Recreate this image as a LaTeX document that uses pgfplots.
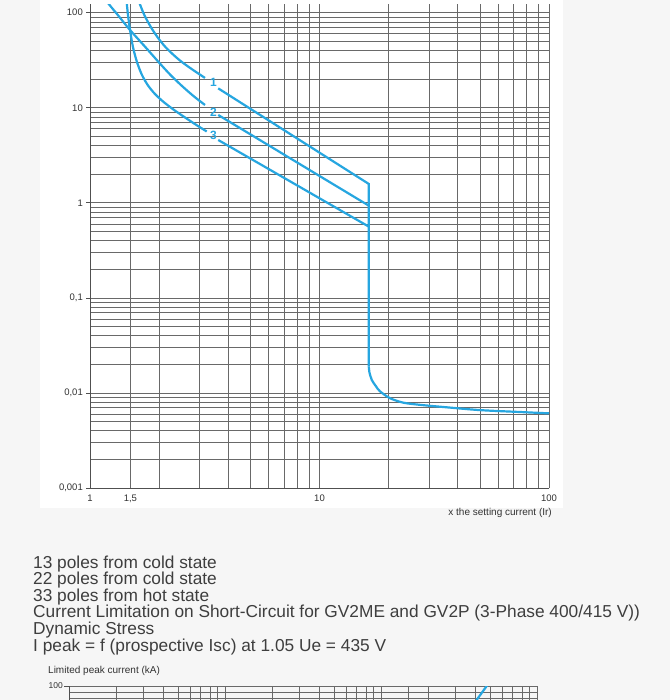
\documentclass[border=0pt]{standalone}
\usepackage{pgfplots}
\pgfplotsset{compat=1.18}
\usepackage{fontspec}
\setmainfont{Liberation Sans}
\definecolor{curve}{RGB}{38,166,224}
\definecolor{gridc}{RGB}{105,105,105}
\definecolor{axisc}{RGB}{80,80,80}
\definecolor{bgout}{RGB}{246,246,246}
\definecolor{txt}{RGB}{62,62,62}
\definecolor{tickc}{RGB}{50,50,50}
\begin{document}
\begin{tikzpicture}
\path[use as bounding box] (0pt,0pt) rectangle (670pt,-700pt);
\clip (0pt,0pt) rectangle (670pt,-700pt);
\fill[bgout] (0pt,0pt) rectangle (670pt,-700pt);
\fill[white] (40pt,0pt) rectangle (563pt,-508pt);
\begin{axis}[
  at={(90pt,-488pt)}, anchor=south west,
  scale only axis, width=459pt, height=483.5pt,
  xmode=log, ymode=log,
  xmin=1, xmax=100, ymin=0.001, ymax=122,
  axis lines*=left,
  axis line style={draw=axisc, line width=0.9pt},
  xtick={1,1.5,10,100}, xticklabels={1,{1,5},10,100},
  minor xtick={2,3,4,5,6,7,8,9,20,30,40,50,60,70,80,90},
  ytick={0.001,0.01,0.1,1,10,100},
  yticklabels={{0,001},{0,01},{0,1},1,10,100},
  minor ytick={0.002,0.003,0.004,0.005,0.006,0.007,0.008,0.009,
    0.02,0.03,0.04,0.05,0.06,0.07,0.08,0.09,
    0.2,0.3,0.4,0.5,0.6,0.7,0.8,0.9,
    2,3,4,5,6,7,8,9,20,30,40,50,60,70,80,90},
  grid=both,
  major grid style={draw=gridc, line width=0.75pt},
  minor grid style={draw=gridc, line width=0.75pt},
  tick align=outside, major tick length=4pt, minor tick length=0pt,
  xtick style={draw=none},
  ytick style={draw=axisc, line width=0.7pt},
  tick label style={font=\fontsize{9.5}{10}\selectfont, text=tickc},
  yticklabel style={inner sep=0pt, xshift=-3pt},
  xticklabel style={inner sep=0pt, yshift=-3pt},
]
% curve 1
\addplot[curve, line width=2.2pt, smooth] coordinates {
 (1.60,150) (1.624,136) (1.707,100) (1.789,79.8) (1.882,65.0) (1.985,53.8) (2.122,44.1) (2.277,37.2) (2.467,31.4) (2.673,27.2) (2.897,23.8) (3.171,20.6)};
\addplot[curve, line width=2.2pt] coordinates {
 (3.62,16.0) (16.4,1.58) (16.4,0.019)};
\addplot[curve, line width=2.2pt, smooth] coordinates {
 (16.4,0.019) (16.5,0.0165) (16.9,0.0137) (17.6,0.0118) (18.35,0.0104) (20.3,0.0088) (23.2,0.0079) (27.4,0.0075) (35,0.0071) (50,0.0066) (75,0.0063) (100,0.0061)};
% curve 2
\addplot[curve, line width=2.2pt, smooth] coordinates {
 (1.15,150) (1.169,136) (1.311,96.9) (1.494,65.8) (1.737,43.9) (1.985,30.5) (2.232,22.4) (2.517,16.95) (2.839,13.15) (3.171,10.7)};
\addplot[curve, line width=2.2pt] coordinates {
 (3.62,8.4) (16.4,0.934)};
% curve 3
\addplot[curve, line width=2.2pt, smooth] coordinates {
 (1.44,150) (1.442,136) (1.464,94.6) (1.494,65.8) (1.539,43.6) (1.602,30.3) (1.685,22.1) (1.789,17.2) (1.919,13.97) (2.080,11.65) (2.277,9.83) (2.517,8.30) (2.839,6.84) (3.225,5.63)};
\addplot[curve, line width=2.2pt] coordinates {
 (3.62,4.58) (16.4,0.562)};
\node[font=\bfseries\fontsize{12}{12}\selectfont, text=curve] at (axis cs:3.45,18.7) {1};
\node[font=\bfseries\fontsize{12}{12}\selectfont, text=curve] at (axis cs:3.45,9.04) {2};
\node[font=\bfseries\fontsize{12}{12}\selectfont, text=curve] at (axis cs:3.45,5.12) {3};
\end{axis}
\node[anchor=east, inner sep=0pt, font=\fontsize{10}{11}\selectfont, text=tickc] at (552pt,-513pt) {x the setting current (Ir)};
% text lines
\foreach \t [count=\i from 0] in {13 poles from cold state, 22 poles from cold state, 33 poles from hot state,
 Current Limitation on Short-Circuit for GV2ME and GV2P (3-Phase 400/415 V)), Dynamic Stress,
 I peak = f (prospective Isc) at 1.05 Ue = 435 V}{
  \node[anchor=base west, inner sep=0pt, font=\fontsize{17.3}{18}\selectfont, text=txt] at (33pt,{-568pt-16.65pt*\i}) {\t};
}
\node[anchor=west, inner sep=0pt, font=\fontsize{10}{11}\selectfont, text=tickc] at (48pt,-670.7pt) {Limited peak current (kA)};
\begin{axis}[
  at={(69pt,-948pt)}, anchor=south west,
  scale only axis, width=468pt, height=262pt,
  xmode=log, ymode=log,
  xmin=1, xmax=1000, ymin=1, ymax=100,
  axis lines*=left,
  axis line style={draw=axisc, line width=0.9pt},
  xtick={1,10,100,1000}, xticklabels={},
  minor xtick={2,3,4,5,6,7,8,9,20,30,40,50,60,70,80,90,150,200,300,400,500,600,700,800,900},
  ytick={1,10,100}, yticklabels={,,100},
  minor ytick={2,3,4,5,6,7,8,9,20,30,40,50,60,70,80,90},
  grid=both,
  major grid style={draw=gridc, line width=0.75pt},
  minor grid style={draw=gridc, line width=0.75pt},
  tick align=outside, major tick length=5pt, minor tick length=0pt,
  xtick style={draw=none},
  ytick style={draw=axisc, line width=0.7pt},
  tick label style={font=\fontsize{8.5}{9}\selectfont, text=tickc},
  yticklabel style={inner sep=0pt, xshift=-1pt},
]
\addplot[curve, line width=2.2pt] coordinates {(380,68.9) (410,78.2) (476,100) (500,108.6)};
\end{axis}
\end{tikzpicture}
\end{document}
